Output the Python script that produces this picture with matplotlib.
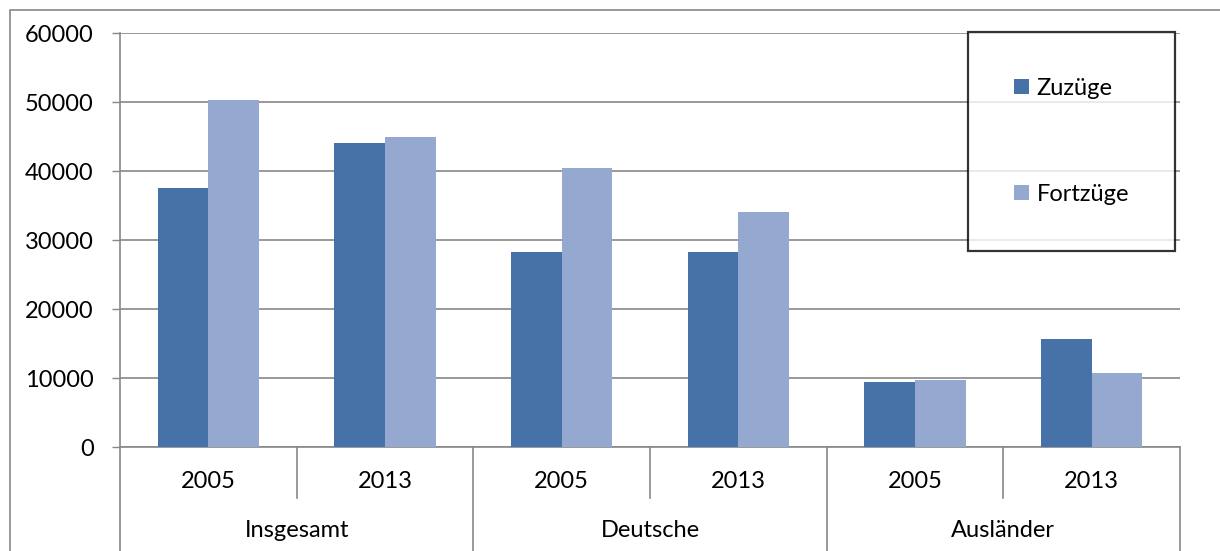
import matplotlib.pyplot as plt
import numpy as np
from matplotlib.lines import Line2D
from matplotlib.patches import Rectangle

# Werte
gruppen = ["Insgesamt", "Deutsche", "Ausländer"]
jahre = ["2005", "2013"]
zuzuege = [37600, 44050, 28250, 28250, 9450, 15750]
fortzuege = [50300, 44900, 40450, 34150, 9750, 10700]
serien = ["Zuzüge", "Fortzüge"]

farbe_zu = "#4672A8"
farbe_fort = "#95A9D0"
grau = "#888888"

plt.rcParams["font.family"] = ["Lato", "DejaVu Sans"]
plt.rcParams["font.size"] = 17

fig = plt.figure(figsize=(12.2, 5.51), dpi=100)
ax = fig.add_axes([120 / 1220, 1 - 447.3 / 551, 1060 / 1220, 414 / 551])

x = np.arange(len(zuzuege))
breite = 0.2865
ax.bar(x - breite / 2, zuzuege, breite, color=farbe_zu, label=serien[0], zorder=3)
ax.bar(x + breite / 2, fortzuege, breite, color=farbe_fort, label=serien[1], zorder=3)

ax.set_xlim(-0.5, len(x) - 0.5)
ax.set_ylim(0, 60000)
ax.set_yticks(np.arange(0, 60001, 10000))
ax.tick_params(axis="y", length=6, width=1, color=grau, pad=13, labelsize=17)
ax.set_xticks([])
ax.grid(axis="y", color=grau, linewidth=1.2, zorder=0)

for s in ["top", "right"]:
    ax.spines[s].set_visible(False)
for s in ["left", "bottom"]:
    ax.spines[s].set_color(grau)
    ax.spines[s].set_linewidth(1.2)

# zweistufige Kategorieachse
n_jahre = len(jahre)
for i, xi in enumerate(x):
    ax.text(xi, -0.0835, jahre[i % n_jahre], transform=ax.get_xaxis_transform(),
            ha="center", va="center", fontsize=17)
for g, name in enumerate(gruppen):
    mitte = g * n_jahre + (n_jahre - 1) / 2
    ax.text(mitte, -0.2, name, transform=ax.get_xaxis_transform(),
            ha="center", va="center", fontsize=17)

# Trennlinien unter der Achse
for i in range(len(x) + 1):
    pos = i - 0.5
    unten = -0.27 if i % n_jahre == 0 else -0.123
    ax.add_line(Line2D([pos, pos], [0, unten], transform=ax.get_xaxis_transform(),
                       color=grau, linewidth=1.2, clip_on=False))

leg = ax.legend(loc="upper left", bbox_to_anchor=(0.8, 1.004), borderaxespad=0,
                frameon=True, fancybox=False, edgecolor="black", fontsize=17,
                handlelength=0.65, handleheight=0.65, handletextpad=0.3,
                labelspacing=3.6, borderpad=1.95)
leg.get_frame().set_linewidth(1.6)
leg.set_zorder(5)

# Rahmen des Diagrammbereichs (rechts und unten abgeschnitten)
fig.patches.append(Rectangle((10 / 1220, -0.1), 1.2, 1.1 - 10 / 551, transform=fig.transFigure,
                             fill=False, edgecolor=grau, linewidth=1.2))

fig.savefig("out.png", dpi=100)
